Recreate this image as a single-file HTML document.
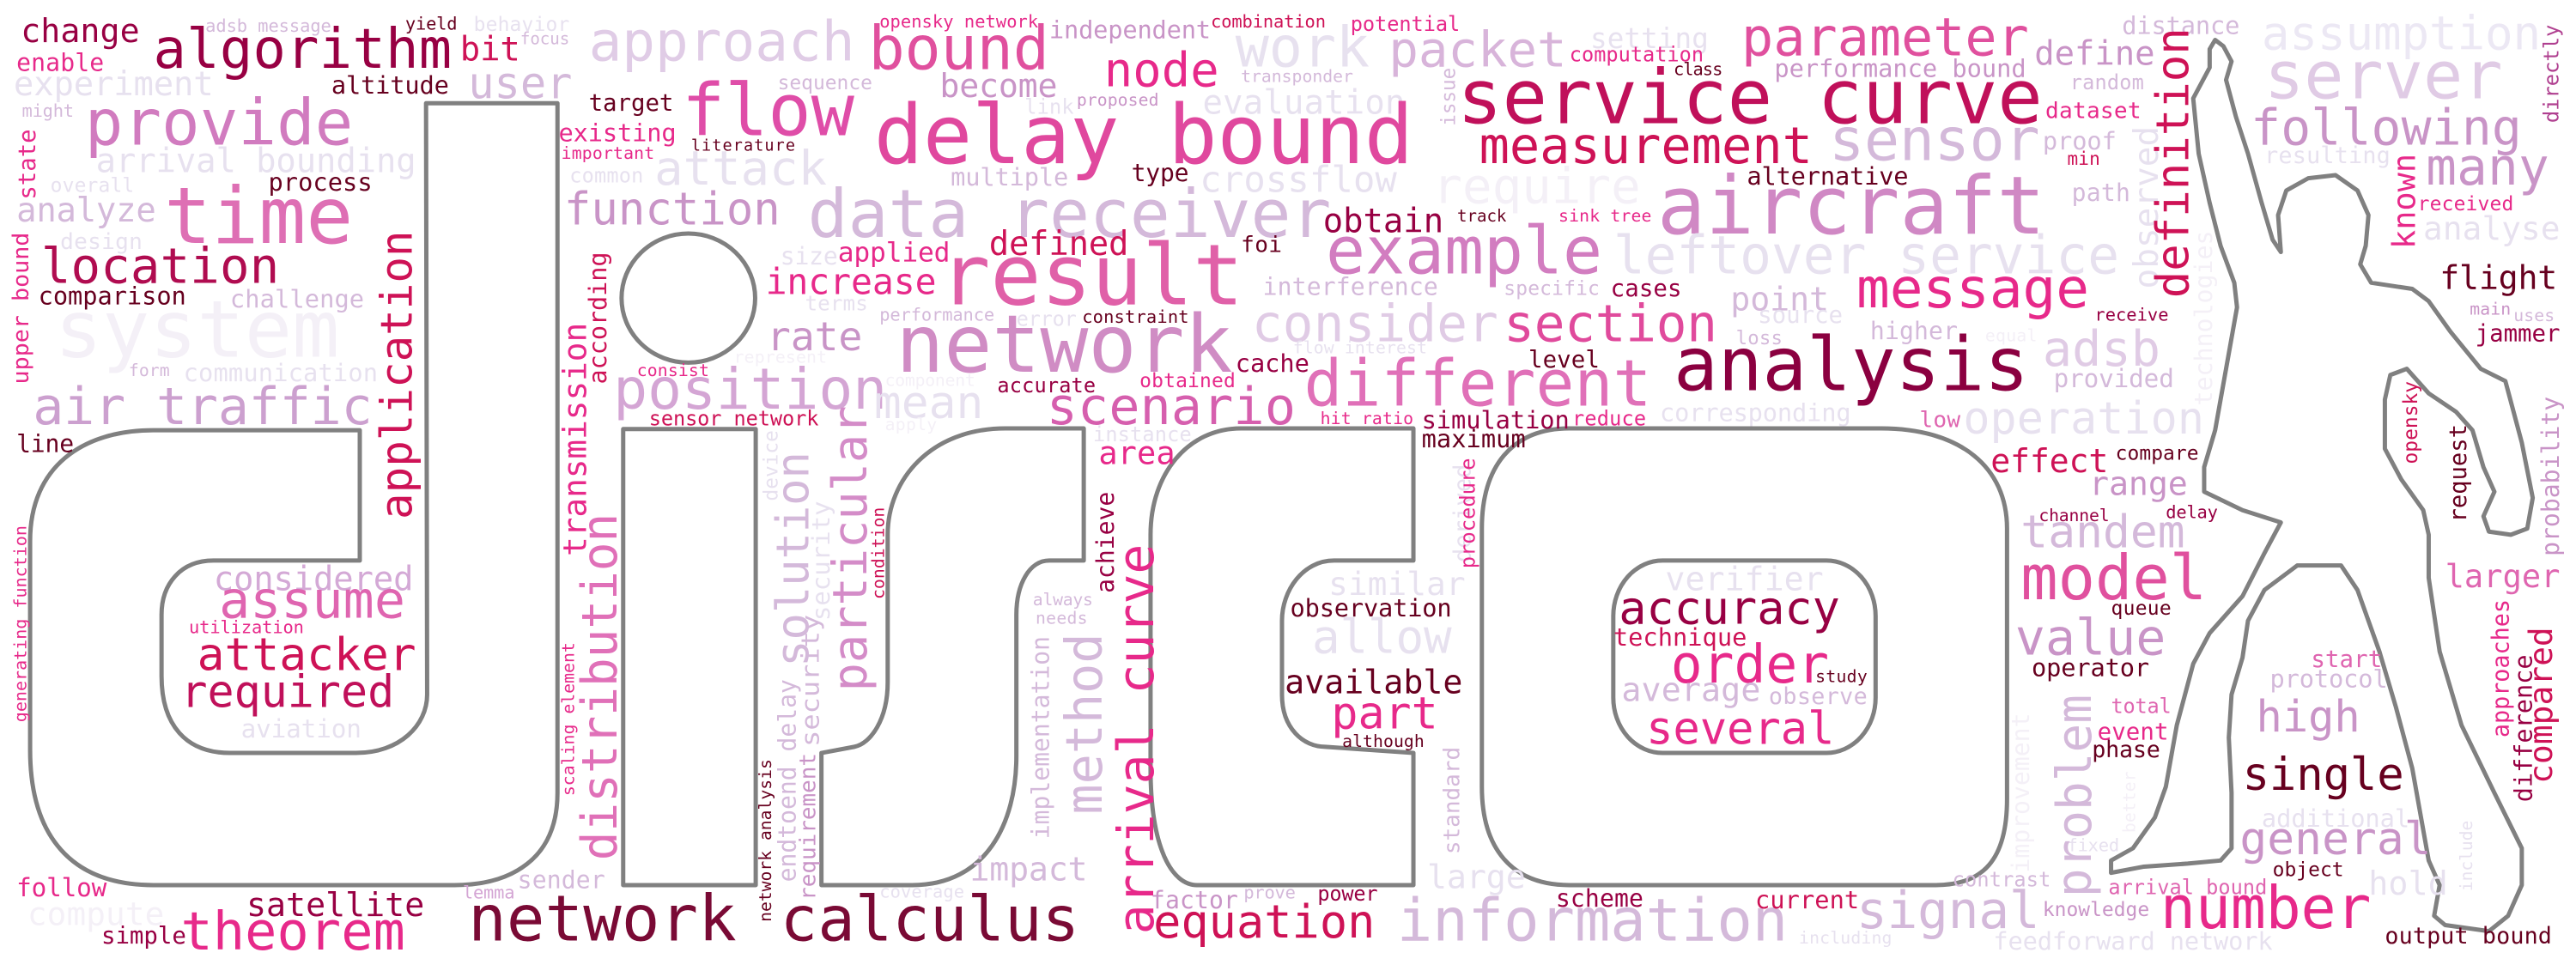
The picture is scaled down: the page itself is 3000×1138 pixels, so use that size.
<!DOCTYPE html>
<html><head><meta charset="utf-8"><style>
html,body{margin:0;padding:0;background:#fff;}
svg{display:block}
text{font-family:"DejaVu Sans Mono","Liberation Mono",monospace;}
.s text{transform-box:fill-box;transform-origin:0 80%;transform:scaleY(.8908)}
.s .v{transform:none}
</style></head><body>
<svg width="3000" height="1138" viewBox="0 0 4704 1784.4" preserveAspectRatio="none" xmlns="http://www.w3.org/2000/svg">
<rect width="4704" height="1785" fill="#fff"/>
<g transform="scale(1,1.1226)">
<g fill="none" stroke="#808080" stroke-width="5" vector-effect="non-scaling-stroke" stroke-linejoin="round">
<path vector-effect="non-scaling-stroke" d="M778,168 L1018,168 L1018,1290 C1018,1400 930,1440 830,1440 L280,1440 C130,1440 55,1360 55,1220 L55,880 C55,760 150,700 280,700 L657,700 L657,912 L390,912 C330,912 295,950 295,1000 L295,1100 C295,1180 340,1225 420,1225 L650,1225 C730,1225 780,1180 780,1130 Z"/>
<ellipse vector-effect="non-scaling-stroke" cx="1257" cy="485" rx="122" ry="105"/>
<rect vector-effect="non-scaling-stroke" x="1138" y="698" width="242" height="742"/>
<path vector-effect="non-scaling-stroke" d="M1500,1440 L1666,1440 C1800,1440 1856,1340 1856,1230 L1856,1000 C1856,950 1880,912 1916,912 L1979,912 L1979,697 L1836,697 C1700,697 1621,780 1621,870 L1621,1110 C1621,1170 1590,1210 1560,1215 L1500,1225 Z"/>
<path vector-effect="non-scaling-stroke" d="M2266,697 L2581,697 L2581,912 L2436,912 C2380,912 2341,960 2341,1010 L2341,1130 C2341,1185 2380,1215 2420,1215 L2581,1225 L2581,1440 L2186,1440 C2140,1440 2101,1380 2101,1250 L2101,870 C2101,770 2170,697 2266,697 Z"/>
<path vector-effect="non-scaling-stroke" d="M2866,697 L3435,697 C3580,697 3665,760 3665,860 L3665,1300 C3665,1400 3620,1440 3535,1440 L2866,1440 C2760,1440 2706,1380 2706,1280 L2706,860 C2706,760 2760,697 2866,697 Z"/>
<rect vector-effect="non-scaling-stroke" x="2946" y="912" width="479" height="313" rx="90"/>
<path vector-effect="non-scaling-stroke" transform="translate(3135,0)" d="M910,65 L925,75 L940,100 L930,130 L948,190 L970,250 L995,330 L1015,390 L1030,410 L1025,350 L1040,310 L1080,290 L1130,285 L1170,310 L1190,350 L1185,400 L1175,430 L1195,460 L1270,470 L1300,490 L1340,540 L1395,600 L1440,620 L1470,720 L1490,810 L1480,860 L1450,870 L1410,865 L1400,840 L1420,800 L1400,760 L1380,700 L1350,670 L1300,640 L1260,600 L1230,610 L1220,650 L1220,730 L1250,780 L1290,830 L1300,870 L1300,940 L1320,1060 L1360,1180 L1420,1290 L1470,1380 L1470,1440 L1445,1490 L1410,1515 L1330,1505 L1310,1490 L1320,1440 L1300,1400 L1270,1250 L1240,1150 L1210,1060 L1170,960 L1140,920 L1060,920 L1000,960 L970,1010 L960,1070 L940,1130 L935,1200 L940,1290 L940,1380 L920,1400 L860,1405 L780,1410 L720,1420 L720,1400 L760,1380 L800,1330 L820,1280 L840,1180 L870,1080 L900,1030 L960,970 L1000,900 L1030,850 L960,830 L890,800 L890,760 L910,700 L930,600 L950,500 L945,460 L920,400 L900,330 L880,250 L870,160 L900,110 L900,80 Z"/>
</g>
<g class="s">
<text x="38" y="68" font-size="60" textLength="217" fill="#980043">change</text>
<text x="30" y="115" font-size="44" textLength="160" fill="#e7298a">enable</text>
<text x="25" y="155" font-size="61" textLength="365" fill="#e7e1ef">experiment</text>
<text x="40" y="190" font-size="32" textLength="95" fill="#d4b9da">might</text>
<text x="375" y="52" font-size="32" textLength="230" fill="#d4b9da">adsb message</text>
<text x="280" y="110" font-size="100" textLength="545" fill="#980043">algorithm</text>
<text x="740" y="48" font-size="32" textLength="95" fill="#67001f">yield</text>
<text x="865" y="50" font-size="36" textLength="175" fill="#e7e1ef">behavior</text>
<text x="950" y="72" font-size="30" textLength="90" fill="#d4b9da">focus</text>
<text x="840" y="98" font-size="61" textLength="110" fill="#ce1256">bit</text>
<text x="605" y="152" font-size="45" textLength="215" fill="#67001f">altitude</text>
<text x="855" y="160" font-size="79" textLength="190" fill="#d4b9da">user</text>
<text x="1075" y="98" font-size="101" textLength="486" fill="#e0cce6">approach</text>
<text x="1420" y="145" font-size="36" textLength="173" fill="#d4b9da">sequence</text>
<text x="155" y="235" font-size="116" textLength="490" fill="#d17bbf">provide</text>
<text x="175" y="280" font-size="61" textLength="585" fill="#e7e1ef">arrival bounding</text>
<text x="1075" y="180" font-size="43" textLength="155" fill="#67001f">target</text>
<text x="1245" y="220" font-size="131" textLength="315" fill="#df4da8">flow</text>
<text x="1020" y="230" font-size="45" textLength="215" fill="#e7298a">existing</text>
<text x="1025" y="258" font-size="31" textLength="170" fill="#e7298a">important</text>
<text x="1262" y="245" font-size="29" textLength="190" fill="#67001f">literature</text>
<text x="1040" y="297" font-size="37" textLength="135" fill="#e7e1ef">common</text>
<text x="1195" y="300" font-size="87" textLength="315" fill="#e7e1ef">attack</text>
<text x="92" y="312" font-size="36" textLength="153" fill="#e7e1ef">overall</text>
<text x="490" y="310" font-size="45" textLength="190" fill="#67001f">process</text>
<text x="30" y="360" font-size="61" textLength="255" fill="#d4b9da">analyze</text>
<text x="300" y="395" font-size="143" textLength="345" fill="#de6fb4">time</text>
<text x="1030" y="365" font-size="82" textLength="395" fill="#c994c7">function</text>
<text x="1475" y="385" font-size="122" textLength="956" fill="#d4b9da">data receiver</text>
<text x="110" y="405" font-size="41" textLength="150" fill="#e7e1ef">design</text>
<text x="75" y="460" font-size="90" textLength="435" fill="#b00c50">location</text>
<text x="70" y="495" font-size="45" textLength="270" fill="#67001f">comparison</text>
<text x="420" y="500" font-size="45" textLength="245" fill="#d4b9da">challenge</text>
<text x="100" y="580" font-size="144" textLength="520" fill="#f4f0f7">system</text>
<text x="1425" y="430" font-size="44" textLength="105" fill="#e7e1ef">size</text>
<text x="1398" y="478" font-size="65" textLength="312" fill="#e7298a">increase</text>
<text x="1470" y="505" font-size="38" textLength="115" fill="#e7e1ef">terms</text>
<text x="1400" y="570" font-size="73" textLength="175" fill="#c994c7">rate</text>
<text x="1340" y="590" font-size="31" textLength="170" fill="#f4f0f7">represent</text>
<text x="235" y="612" font-size="31" textLength="75" fill="#d4b9da">form</text>
<text x="335" y="620" font-size="45" textLength="355" fill="#e7e1ef">communication</text>
<text x="60" y="690" font-size="94" textLength="620" fill="#cca0cf">air traffic</text>
<text x="1163" y="612" font-size="31" textLength="132" fill="#e7298a">consist</text>
<text x="1120" y="665" font-size="104" textLength="500" fill="#d4a5d4">position</text>
<text x="1185" y="692" font-size="37" textLength="310" fill="#ce1256">sensor network</text>
<text x="30" y="735" font-size="44" textLength="105" fill="#67001f">line</text>
<text x="390" y="960" font-size="61" textLength="365" fill="#d4a9d6">considered</text>
<text x="400" y="1005" font-size="94" textLength="340" fill="#df65b0">assume</text>
<text x="345" y="1030" font-size="32" textLength="210" fill="#e7298a">utilization</text>
<text x="360" y="1090" font-size="83" textLength="400" fill="#ce1256">attacker</text>
<text x="330" y="1150" font-size="81" textLength="390" fill="#c0105a">required</text>
<text x="440" y="1200" font-size="46" textLength="220" fill="#e7e1ef">aviation</text>
<text x="30" y="1458" font-size="46" textLength="165" fill="#e7298a">follow</text>
<text x="50" y="1505" font-size="59" textLength="250" fill="#f4f0f7">compute</text>
<text x="185" y="1535" font-size="43" textLength="155" fill="#980043">simple</text>
<text x="330" y="1545" font-size="97" textLength="410" fill="#e7298a">theorem</text>
<text x="450" y="1490" font-size="60" textLength="325" fill="#980043">satellite</text>
<text x="945" y="1445" font-size="44" textLength="160" fill="#d4b9da">sender</text>
<text x="845" y="1462" font-size="32" textLength="95" fill="#d4a5d4">lemma</text>
<text x="855" y="1530" font-size="116" textLength="490" fill="#7a0a35">network</text>
<text x="1425" y="1530" font-size="113" textLength="546" fill="#7a0a35">calculus</text>
<text x="1606" y="45" font-size="32" textLength="290" fill="#e7298a">opensky network</text>
<text x="1586" y="112" font-size="110" textLength="330" fill="#e0509e">bound</text>
<text x="1916" y="62" font-size="45" textLength="295" fill="#c994c7">independent</text>
<text x="2211" y="45" font-size="32" textLength="210" fill="#ce1256">combination</text>
<text x="2466" y="50" font-size="37" textLength="200" fill="#e7298a">potential</text>
<text x="1716" y="158" font-size="60" textLength="215" fill="#c994c7">become</text>
<text x="2016" y="140" font-size="87" textLength="210" fill="#e7298a">node</text>
<text x="2256" y="108" font-size="102" textLength="245" fill="#e7e1ef">work</text>
<text x="2536" y="108" font-size="90" textLength="325" fill="#d8b4da">packet</text>
<text x="2266" y="133" font-size="31" textLength="205" fill="#d4b9da">transponder</text>
<text x="2904" y="78" font-size="51" textLength="216" fill="#e7e1ef">setting</text>
<text x="2866" y="100" font-size="37" textLength="245" fill="#e7298a">computation</text>
<text x="3056" y="122" font-size="32" textLength="90" fill="#67001f">class</text>
<text x="1871" y="185" font-size="37" textLength="90" fill="#e7e1ef">link</text>
<text x="1966" y="172" font-size="31" textLength="150" fill="#c994c7">proposed</text>
<text x="2196" y="185" font-size="61" textLength="370" fill="#e7e1ef">evaluation</text>
<text x="1596" y="265" font-size="149" textLength="985" fill="#e0489e">delay bound</text>
<text x="2661" y="200" font-size="137" textLength="1069" fill="#c0105a">service curve</text>
<text x="2701" y="265" font-size="92" textLength="609" fill="#ce1256">measurement</text>
<text x="1736" y="302" font-size="45" textLength="215" fill="#d4b9da">multiple</text>
<text x="2066" y="295" font-size="44" textLength="105" fill="#67001f">type</text>
<text x="2191" y="312" font-size="66" textLength="360" fill="#e7e1ef">crossflow</text>
<text x="2616" y="330" font-size="90" textLength="380" fill="#f4f0f7">require</text>
<text x="3026" y="380" font-size="147" textLength="709" fill="#d088c4">aircraft</text>
<text x="2416" y="378" font-size="61" textLength="220" fill="#980043">obtain</text>
<text x="2661" y="360" font-size="30" textLength="90" fill="#67001f">track</text>
<text x="2846" y="360" font-size="31" textLength="170" fill="#e7298a">sink tree</text>
<text x="1530" y="425" font-size="49" textLength="205" fill="#e7298a">applied</text>
<text x="1806" y="415" font-size="61" textLength="255" fill="#ce1256">defined</text>
<text x="1716" y="495" font-size="154" textLength="555" fill="#e060a8">result</text>
<text x="2266" y="410" font-size="41" textLength="75" fill="#67001f">foi</text>
<text x="2421" y="445" font-size="120" textLength="505" fill="#d27dc0">example</text>
<text x="2946" y="445" font-size="96" textLength="924" fill="#e7e1ef">leftover service</text>
<text x="2306" y="480" font-size="44" textLength="320" fill="#d4b9da">interference</text>
<text x="2746" y="480" font-size="36" textLength="175" fill="#d4b9da">specific</text>
<text x="2941" y="482" font-size="43" textLength="130" fill="#980043">cases</text>
<text x="1606" y="522" font-size="32" textLength="210" fill="#d4b9da">performance</text>
<text x="1856" y="530" font-size="37" textLength="110" fill="#e7e1ef">error</text>
<text x="1976" y="525" font-size="32" textLength="195" fill="#67001f">constraint</text>
<text x="1636" y="605" font-size="146" textLength="615" fill="#d08cc4">network</text>
<text x="2286" y="555" font-size="93" textLength="450" fill="#e0cbe5">consider</text>
<text x="2746" y="555" font-size="93" textLength="390" fill="#e04a9c">section</text>
<text x="2361" y="575" font-size="31" textLength="245" fill="#e7e1ef">flow interest</text>
<text x="2256" y="605" font-size="45" textLength="135" fill="#980043">cache</text>
<text x="2791" y="598" font-size="43" textLength="130" fill="#67001f">level</text>
<text x="3056" y="635" font-size="135" textLength="649" fill="#8b0040">analysis</text>
<text x="1616" y="628" font-size="31" textLength="165" fill="#f4f0f7">component</text>
<text x="1821" y="638" font-size="37" textLength="180" fill="#980043">accurate</text>
<text x="2081" y="630" font-size="36" textLength="175" fill="#e7298a">obtained</text>
<text x="2381" y="660" font-size="117" textLength="635" fill="#e070b8">different</text>
<text x="1596" y="680" font-size="83" textLength="200" fill="#e7e1ef">mean</text>
<text x="1616" y="700" font-size="31" textLength="95" fill="#f4f0f7">apply</text>
<text x="1911" y="690" font-size="94" textLength="455" fill="#d65fae">scenario</text>
<text x="2411" y="690" font-size="31" textLength="170" fill="#e7298a">hit ratio</text>
<text x="2596" y="697" font-size="45" textLength="270" fill="#980043">simulation</text>
<text x="2871" y="692" font-size="37" textLength="135" fill="#e7298a">reduce</text>
<text x="3031" y="685" font-size="45" textLength="349" fill="#e7e1ef">corresponding</text>
<text x="1996" y="718" font-size="37" textLength="180" fill="#e7e1ef">instance</text>
<text x="2596" y="728" font-size="45" textLength="190" fill="#67001f">maximum</text>
<text x="2006" y="755" font-size="58" textLength="140" fill="#e7298a">area</text>
<text x="1886" y="985" font-size="31" textLength="110" fill="#d4b9da">always</text>
<text x="1891" y="1015" font-size="31" textLength="95" fill="#d4b9da">needs</text>
<text x="2426" y="968" font-size="59" textLength="250" fill="#e7e1ef">similar</text>
<text x="2356" y="1003" font-size="45" textLength="295" fill="#67001f">observation</text>
<text x="2396" y="1062" font-size="85" textLength="255" fill="#e7e1ef">allow</text>
<text x="2346" y="1128" font-size="60" textLength="325" fill="#67001f">available</text>
<text x="2431" y="1185" font-size="81" textLength="195" fill="#e7298a">part</text>
<text x="2451" y="1215" font-size="31" textLength="150" fill="#67001f">although</text>
<text x="1771" y="1432" font-size="60" textLength="215" fill="#d4b9da">impact</text>
<text x="1606" y="1460" font-size="32" textLength="155" fill="#e7e1ef">coverage</text>
<text x="2606" y="1445" font-size="60" textLength="180" fill="#e7e1ef">large</text>
<text x="2101" y="1478" font-size="44" textLength="160" fill="#c994c7">factor</text>
<text x="2271" y="1462" font-size="32" textLength="95" fill="#d4b9da">prove</text>
<text x="2406" y="1465" font-size="37" textLength="110" fill="#980043">power</text>
<text x="2841" y="1475" font-size="44" textLength="160" fill="#980043">scheme</text>
<text x="2106" y="1525" font-size="84" textLength="405" fill="#ce1256">equation</text>
<text x="2551" y="1530" font-size="108" textLength="714" fill="#d4b9da">information</text>
<text x="3041" y="960" font-size="60" textLength="289" fill="#e7e1ef">verifier</text>
<text x="2956" y="1015" font-size="84" textLength="404" fill="#980043">accuracy</text>
<text x="2946" y="1050" font-size="45" textLength="244" fill="#ce1256">technique</text>
<text x="3051" y="1110" font-size="96" textLength="289" fill="#e7298a">order</text>
<text x="3315" y="1110" font-size="31" textLength="95" fill="#67001f">study</text>
<text x="2961" y="1140" font-size="60" textLength="254" fill="#d4b9da">average</text>
<text x="3230" y="1145" font-size="42" textLength="180" fill="#d4b9da">observe</text>
<text x="3006" y="1210" font-size="82" textLength="344" fill="#e7298a">several</text>
<text x="3180" y="90" font-size="97" textLength="525" fill="#e0509e">parameter</text>
<text x="3240" y="125" font-size="45" textLength="460" fill="#c994c7">performance bound</text>
<text x="3875" y="55" font-size="45" textLength="215" fill="#d4b9da">distance</text>
<text x="3715" y="105" font-size="61" textLength="220" fill="#c994c7">define</text>
<text x="3780" y="145" font-size="37" textLength="135" fill="#d4b9da">random</text>
<text x="3735" y="192" font-size="41" textLength="175" fill="#e7298a">dataset</text>
<text x="3340" y="260" font-size="107" textLength="385" fill="#d4b9da">sensor</text>
<text x="3730" y="243" font-size="45" textLength="135" fill="#d4b9da">proof</text>
<text x="3775" y="268" font-size="33" textLength="60" fill="#ce1256">min</text>
<text x="3190" y="300" font-size="45" textLength="295" fill="#67001f">alternative</text>
<text x="3783" y="327" font-size="44" textLength="107" fill="#d4b9da">path</text>
<text x="4130" y="80" font-size="85" textLength="510" fill="#ece8f4">assumption</text>
<text x="4135" y="160" font-size="120" textLength="435" fill="#e0cbe5">server</text>
<text x="4110" y="235" font-size="91" textLength="495" fill="#c994c7">following</text>
<text x="4135" y="265" font-size="42" textLength="230" fill="#e7e1ef">resulting</text>
<text x="4430" y="300" font-size="93" textLength="225" fill="#c994c7">many</text>
<text x="4415" y="342" font-size="36" textLength="175" fill="#e7298a">received</text>
<text x="4425" y="390" font-size="59" textLength="250" fill="#e7e1ef">analyse</text>
<text x="3160" y="505" font-size="60" textLength="180" fill="#d4b9da">point</text>
<text x="3210" y="525" font-size="43" textLength="155" fill="#e7e1ef">source</text>
<text x="3390" y="500" font-size="101" textLength="425" fill="#e7298a">message</text>
<text x="3170" y="560" font-size="35" textLength="85" fill="#d4b9da">loss</text>
<text x="3415" y="552" font-size="44" textLength="160" fill="#d4b9da">higher</text>
<text x="3625" y="555" font-size="31" textLength="95" fill="#f4f0f7">equal</text>
<text x="3825" y="522" font-size="32" textLength="135" fill="#980043">receive</text>
<text x="3730" y="595" font-size="89" textLength="215" fill="#e0cbe5">adsb</text>
<text x="3750" y="630" font-size="46" textLength="220" fill="#d4b9da">provided</text>
<text x="4455" y="470" font-size="60" textLength="215" fill="#67001f">flight</text>
<text x="4510" y="512" font-size="31" textLength="75" fill="#c994c7">main</text>
<text x="4590" y="522" font-size="31" textLength="75" fill="#d4b9da">uses</text>
<text x="4520" y="555" font-size="43" textLength="155" fill="#980043">jammer</text>
<text x="3505" y="695" font-size="41" textLength="75" fill="#df65b0">low</text>
<text x="3585" y="705" font-size="81" textLength="440" fill="#e7e1ef">operation</text>
<text x="3635" y="768" font-size="60" textLength="215" fill="#ce1256">effect</text>
<text x="3863" y="748" font-size="36" textLength="152" fill="#67001f">compare</text>
<text x="3815" y="805" font-size="60" textLength="180" fill="#c994c7">range</text>
<text x="3723" y="848" font-size="31" textLength="129" fill="#980043">channel</text>
<text x="3955" y="843" font-size="32" textLength="95" fill="#980043">delay</text>
<text x="3690" y="890" font-size="83" textLength="300" fill="#d4b9da">tandem</text>
<text x="3690" y="975" font-size="113" textLength="340" fill="#e0509e">model</text>
<text x="4465" y="955" font-size="58" textLength="210" fill="#df65b0">larger</text>
<text x="3855" y="1000" font-size="36" textLength="110" fill="#67001f">queue</text>
<text x="3680" y="1065" font-size="91" textLength="275" fill="#c994c7">value</text>
<text x="3710" y="1100" font-size="45" textLength="215" fill="#67001f">operator</text>
<text x="4220" y="1085" font-size="43" textLength="130" fill="#df65b0">start</text>
<text x="4145" y="1118" font-size="45" textLength="215" fill="#d4b9da">protocol</text>
<text x="4120" y="1190" font-size="79" textLength="190" fill="#c994c7">high</text>
<text x="3855" y="1160" font-size="37" textLength="110" fill="#df65b0">total</text>
<text x="3830" y="1203" font-size="43" textLength="130" fill="#e7298a">event</text>
<text x="3820" y="1232" font-size="42" textLength="125" fill="#67001f">phase</text>
<text x="3775" y="1385" font-size="32" textLength="95" fill="#e7e1ef">fixed</text>
<text x="4095" y="1285" font-size="82" textLength="295" fill="#67001f">single</text>
<text x="4130" y="1345" font-size="45" textLength="270" fill="#e7e1ef">additional</text>
<text x="4090" y="1390" font-size="83" textLength="350" fill="#c994c7">general</text>
<text x="4150" y="1425" font-size="36" textLength="130" fill="#67001f">object</text>
<text x="4325" y="1455" font-size="60" textLength="145" fill="#e7e1ef">hold</text>
<text x="3565" y="1442" font-size="37" textLength="180" fill="#d4b9da">contrast</text>
<text x="3850" y="1455" font-size="37" textLength="290" fill="#df65b0">arrival bound</text>
<text x="3205" y="1478" font-size="45" textLength="190" fill="#ce1256">current</text>
<text x="3390" y="1510" font-size="93" textLength="335" fill="#d4b9da">signal</text>
<text x="3730" y="1490" font-size="36" textLength="195" fill="#c994c7">knowledge</text>
<text x="3945" y="1510" font-size="107" textLength="385" fill="#e7298a">number</text>
<text x="3285" y="1535" font-size="31" textLength="170" fill="#e7e1ef">including</text>
<text x="3640" y="1545" font-size="45" textLength="510" fill="#e7e1ef">feedforward network</text>
<text x="4355" y="1535" font-size="42" textLength="305" fill="#67001f">output bound</text>
<g transform="translate(64,325) rotate(-90)"><text class="v" font-size="43" textLength="115" lengthAdjust="spacingAndGlyphs" fill="#e7298a">state</text></g>
<g transform="translate(52,625) rotate(-90)"><text class="v" font-size="41" textLength="247" lengthAdjust="spacingAndGlyphs" fill="#e7298a">upper bound</text></g>
<g transform="translate(752,845) rotate(-90)"><text class="v" font-size="80" textLength="470" lengthAdjust="spacingAndGlyphs" fill="#ce1256">application</text></g>
<g transform="translate(1107,625) rotate(-90)"><text class="v" font-size="45" textLength="215" lengthAdjust="spacingAndGlyphs" fill="#ce1256">according</text></g>
<g transform="translate(1070,905) rotate(-90)"><text class="v" font-size="59" textLength="380" lengthAdjust="spacingAndGlyphs" fill="#e7298a">transmission</text></g>
<g transform="translate(1126,1400) rotate(-90)"><text class="v" font-size="90" textLength="565" lengthAdjust="spacingAndGlyphs" fill="#e070b8">distribution</text></g>
<g transform="translate(1420,815) rotate(-90)"><text class="v" font-size="36" textLength="115" lengthAdjust="spacingAndGlyphs" fill="#e7e1ef">device</text></g>
<g transform="translate(1476,1085) rotate(-90)"><text class="v" font-size="82" textLength="350" lengthAdjust="spacingAndGlyphs" fill="#d4b9da">solution</text></g>
<g transform="translate(1515,1010) rotate(-90)"><text class="v" font-size="45" textLength="195" lengthAdjust="spacingAndGlyphs" fill="#e7e1ef">security</text></g>
<g transform="translate(1495,1215) rotate(-90)"><text class="v" font-size="45" textLength="215" lengthAdjust="spacingAndGlyphs" fill="#d4b9da">security</text></g>
<g transform="translate(1582,1125) rotate(-90)"><text class="v" font-size="86" textLength="465" lengthAdjust="spacingAndGlyphs" fill="#d48cc8">particular</text></g>
<g transform="translate(48,1175) rotate(-90)"><text class="v" font-size="31" textLength="320" lengthAdjust="spacingAndGlyphs" fill="#e7298a">generating function</text></g>
<g transform="translate(1048,1295) rotate(-90)"><text class="v" font-size="31" textLength="250" lengthAdjust="spacingAndGlyphs" fill="#e7298a">scaling element</text></g>
<g transform="translate(1408,1500) rotate(-90)"><text class="v" font-size="31" textLength="265" lengthAdjust="spacingAndGlyphs" fill="#67001f">network analysis</text></g>
<g transform="translate(1453,1435) rotate(-90)"><text class="v" font-size="44" textLength="330" lengthAdjust="spacingAndGlyphs" fill="#d4b9da">endtoend delay</text></g>
<g transform="translate(1489,1465) rotate(-90)"><text class="v" font-size="40" textLength="240" lengthAdjust="spacingAndGlyphs" fill="#c994c7">requirement</text></g>
<g transform="translate(2657,205) rotate(-90)"><text class="v" font-size="36" textLength="95" lengthAdjust="spacingAndGlyphs" fill="#d4b9da">issue</text></g>
<g transform="translate(2034,965) rotate(-90)"><text class="v" font-size="44" textLength="165" lengthAdjust="spacingAndGlyphs" fill="#980043">achieve</text></g>
<g transform="translate(1614,975) rotate(-90)"><text class="v" font-size="31" textLength="150" lengthAdjust="spacingAndGlyphs" fill="#ce1256">condition</text></g>
<g transform="translate(2106,1520) rotate(-90)"><text class="v" font-size="91" textLength="635" lengthAdjust="spacingAndGlyphs" fill="#e7298a">arrival curve</text></g>
<g transform="translate(2685,915) rotate(-90)"><text class="v" font-size="43" textLength="160" lengthAdjust="spacingAndGlyphs" fill="#e7e1ef">derived</text></g>
<g transform="translate(2693,925) rotate(-90)"><text class="v" font-size="37" textLength="180" lengthAdjust="spacingAndGlyphs" fill="#e7298a">procedure</text></g>
<g transform="translate(2012,1325) rotate(-90)"><text class="v" font-size="92" textLength="295" lengthAdjust="spacingAndGlyphs" fill="#d4b9da">method</text></g>
<g transform="translate(1915,1365) rotate(-90)"><text class="v" font-size="44" textLength="330" lengthAdjust="spacingAndGlyphs" fill="#d4b9da">implementation</text></g>
<g transform="translate(2665,1390) rotate(-90)"><text class="v" font-size="40" textLength="175" lengthAdjust="spacingAndGlyphs" fill="#d4b9da">standard</text></g>
<g transform="translate(3940,470) rotate(-90)"><text class="v" font-size="62" textLength="265" lengthAdjust="spacingAndGlyphs" fill="#e7e1ef">observed</text></g>
<g transform="translate(3996,485) rotate(-90)"><text class="v" font-size="82" textLength="440" lengthAdjust="spacingAndGlyphs" fill="#ce1256">definition</text></g>
<g transform="translate(4039,660) rotate(-90)"><text class="v" font-size="44" textLength="285" lengthAdjust="spacingAndGlyphs" fill="#f4f0f7">technologies</text></g>
<g transform="translate(4672,200) rotate(-90)"><text class="v" font-size="37" textLength="160" lengthAdjust="spacingAndGlyphs" fill="#b04090">directly</text></g>
<g transform="translate(4410,405) rotate(-90)"><text class="v" font-size="57" textLength="155" lengthAdjust="spacingAndGlyphs" fill="#e7298a">known</text></g>
<g transform="translate(4414,755) rotate(-90)"><text class="v" font-size="36" textLength="135" lengthAdjust="spacingAndGlyphs" fill="#ce1256">opensky</text></g>
<g transform="translate(4503,850) rotate(-90)"><text class="v" font-size="43" textLength="160" lengthAdjust="spacingAndGlyphs" fill="#67001f">request</text></g>
<g transform="translate(4673,905) rotate(-90)"><text class="v" font-size="44" textLength="260" lengthAdjust="spacingAndGlyphs" fill="#c994c7">probability</text></g>
<g transform="translate(4581,1200) rotate(-90)"><text class="v" font-size="43" textLength="225" lengthAdjust="spacingAndGlyphs" fill="#e7298a">approaches</text></g>
<g transform="translate(4623,1305) rotate(-90)"><text class="v" font-size="45" textLength="240" lengthAdjust="spacingAndGlyphs" fill="#980043">difference</text></g>
<g transform="translate(4660,1275) rotate(-90)"><text class="v" font-size="59" textLength="255" lengthAdjust="spacingAndGlyphs" fill="#ce1256">compared</text></g>
<g transform="translate(3818,1460) rotate(-90)"><text class="v" font-size="88" textLength="330" lengthAdjust="spacingAndGlyphs" fill="#d4b9da">problem</text></g>
<g transform="translate(3705,1420) rotate(-90)"><text class="v" font-size="44" textLength="260" lengthAdjust="spacingAndGlyphs" fill="#f4f0f7">improvement</text></g>
<g transform="translate(3899,1355) rotate(-90)"><text class="v" font-size="31" textLength="100" lengthAdjust="spacingAndGlyphs" fill="#f4f0f7">better</text></g>
<g transform="translate(4514,1450) rotate(-90)"><text class="v" font-size="31" textLength="115" lengthAdjust="spacingAndGlyphs" fill="#e7e1ef">include</text></g>
</g>
</g>
</svg>
</body></html>
